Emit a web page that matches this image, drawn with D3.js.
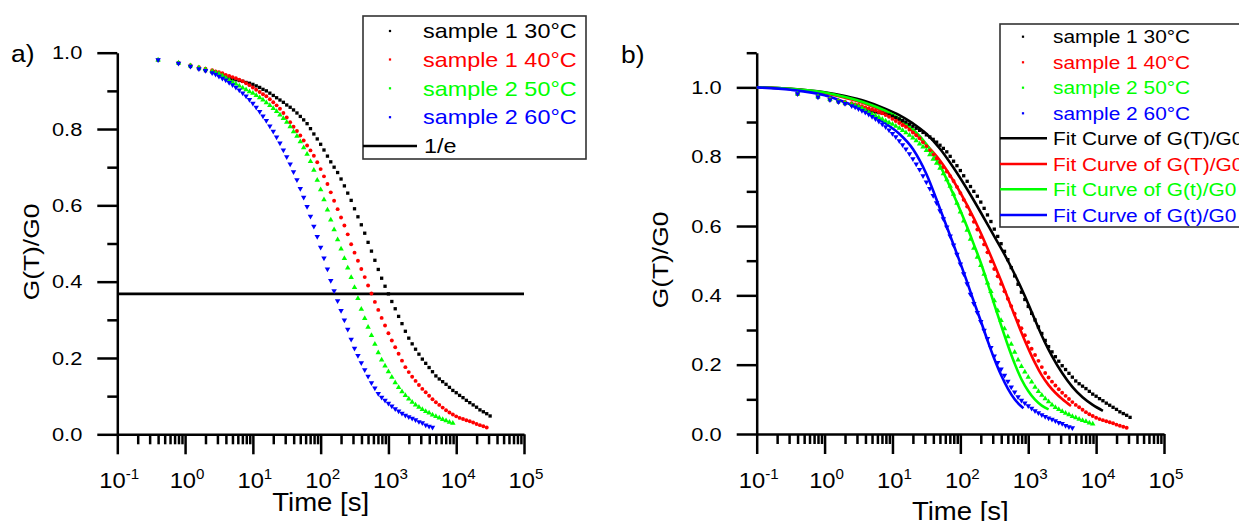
<!DOCTYPE html>
<html><head><meta charset="utf-8">
<script src="https://cdn.jsdelivr.net/npm/d3@7"></script>
<style>
body{margin:0;background:#fff}
svg{display:block}
text{font-family:"Liberation Sans",Arial,Helvetica,sans-serif}
</style>
</head><body>
<svg id="chart" width="1239" height="521"></svg>
<script>
// ---------------- data ----------------
const times = [0.4,0.8,1.2,1.6,2.0,
 2.51,2.82,3.16,3.55,3.98,4.47,5.01,5.62,6.31,7.08,7.94,8.91,10,11.2,12.6,
 14.1,15.8,17.8,20,22.4,25.1,28.2,31.6,35.5,39.8,44.7,50.1,56.2,63.1,70.8,
 79.4,89.1,100,112,126,141,158,178,200,224,251,282,316,355,398,447,501,562,
 631,708,794,891,1000,1122,1259,1413,1585,1778,1995,2239,2512,2818,3162,3548,
 3981,4467,5012,5623,6310,7079,7943,8913,10000,11220,12589,14125,15849,17783,
 19953,22387,25119,28184,31623];

const s1_30 = [0.981,0.972,0.964,0.958,0.953,
 0.949,0.946,0.942,0.939,0.936, 0.933,0.931,0.929,0.927,0.925,
 0.922,0.920,0.917,0.913,0.909, 0.904,0.900,0.894,0.888,0.882,
 0.876,0.870,0.863,0.857,0.850, 0.842,0.833,0.824,0.814,0.801,
 0.787,0.774,0.760,0.745,0.729, 0.714,0.700,0.686,0.669,0.651,
 0.632,0.613,0.591,0.570,0.549, 0.527,0.503,0.480,0.456,0.432,
 0.409,0.388,0.368,0.348,0.329, 0.309,0.290,0.270,0.252,0.237,
 0.223,0.210,0.197,0.186,0.175, 0.164,0.153,0.145,0.138,0.131,
 0.123,0.115,0.109,0.102,0.096, 0.089,0.083,0.077,0.071,0.064,
 0.059,0.054,0.048];
const s1_40 = [0.981,0.974,0.967,0.962,0.958,
 0.954,0.951,0.949,0.946,0.942, 0.939,0.936,0.933,0.929,0.925,
 0.920,0.915,0.909,0.903,0.897, 0.891,0.886,0.878,0.870,0.862,
 0.853,0.842,0.830,0.818,0.806, 0.795,0.783,0.770,0.757,0.744,
 0.730,0.713,0.695,0.676,0.656, 0.634,0.612,0.590,0.568,0.547,
 0.524,0.498,0.476,0.455,0.433, 0.412,0.390,0.369,0.347,0.326,
 0.305,0.285,0.265,0.246,0.228, 0.211,0.193,0.176,0.163,0.151,
 0.140,0.129,0.119,0.110,0.101, 0.092,0.084,0.077,0.070,0.063,
 0.057,0.052,0.047,0.043,0.040, 0.037,0.034,0.031,0.027,0.024,
 0.021,0.018];
const s2_50 = [0.981,0.973,0.966,0.961,0.956,
 0.951,0.948,0.945,0.940,0.934, 0.928,0.923,0.918,0.913,0.908,
 0.903,0.898,0.894,0.888,0.882, 0.876,0.869,0.862,0.854,0.846,
 0.837,0.828,0.818,0.806,0.793, 0.781,0.767,0.751,0.734,0.715,
 0.692,0.666,0.641,0.615,0.588, 0.562,0.536,0.510,0.486,0.461,
 0.436,0.411,0.385,0.356,0.328, 0.304,0.281,0.259,0.236,0.214,
 0.195,0.179,0.164,0.150,0.135, 0.123,0.112,0.102,0.093,0.084,
 0.077,0.071,0.065,0.060,0.056, 0.051,0.047,0.043,0.039,0.036,
 0.032,0.029];
const s2_60 = [0.981,0.972,0.964,0.958,0.953,
 0.947,0.943,0.938,0.933,0.928, 0.922,0.916,0.909,0.902,0.894,
 0.886,0.877,0.867,0.857,0.846, 0.834,0.822,0.808,0.794,0.779,
 0.763,0.745,0.727,0.708,0.688, 0.667,0.644,0.621,0.597,0.571,
 0.545,0.518,0.490,0.462,0.433, 0.403,0.376,0.350,0.324,0.299,
 0.275,0.249,0.225,0.206,0.187, 0.169,0.152,0.135,0.121,0.107,
 0.097,0.089,0.081,0.074,0.067, 0.061,0.055,0.050,0.046,0.042,
 0.038,0.033,0.030,0.024,0.021, 0.018];

// fit curves (panel b)
const fitT_30 = [0.1,0.316,1,2,4,7.94,12.6,20,31.6,50.1,79.4,126,200,316,447,631,891,1122,1413,1778,2239,3162,4467,6310,8913,12589];
const fitG_30 = [1.000,0.996,0.986,0.975,0.960,0.938,0.920,0.896,0.866,0.823,0.768,0.706,0.639,0.570,0.518,0.461,0.398,0.352,0.306,0.263,0.225,0.176,0.136,0.106,0.084,0.067];
const fitT_40 = [0.1,0.316,1,2,4,7.94,12.6,20,31.6,50.1,79.4,126,200,251,316,398,501,631,794,1000,1259,1585,1995,2512,3162,4266];
const fitG_40 = [1.000,0.995,0.983,0.970,0.953,0.928,0.905,0.873,0.834,0.789,0.730,0.660,0.580,0.536,0.490,0.442,0.392,0.342,0.293,0.247,0.205,0.169,0.141,0.119,0.101,0.081];
const fitT_50 = [0.1,0.316,1,2,4,7.94,12.6,20,31.6,50.1,70.8,100,126,158,200,251,316,398,501,631,794,1000,1259,1585,1995];
const fitG_50 = [1.000,0.996,0.985,0.972,0.955,0.932,0.910,0.879,0.836,0.775,0.712,0.645,0.597,0.547,0.494,0.436,0.374,0.314,0.256,0.203,0.158,0.124,0.099,0.082,0.071];
const fitT_60 = [0.1,0.316,1,2,4,7.94,12.6,20,31.6,50.1,70.8,100,126,158,200,251,316,398,501,631,851];
const fitG_60 = [1.000,0.993,0.977,0.957,0.931,0.896,0.866,0.822,0.750,0.650,0.572,0.493,0.438,0.382,0.326,0.270,0.217,0.170,0.131,0.100,0.074];

const seriesNames = ["sample 1 30°C","sample 1 40°C","sample 2 50°C","sample 2 60°C"];
const fitNames = ["Fit Curve of G(T)/G0","Fit Curve of G(T)/G0","Fit Curve of G(t)/G0","Fit Curve of G(t)/G0"];
const seriesColors = ["#000000","#ff0000","#00ff00","#0000ff"];
const xTickExps = [-1,0,1,2,3,4,5];
const yTicksA = [0,0.2,0.4,0.6,0.8,1.0];
const yTicksB = [0,0.2,0.4,0.6,0.8,1.0];
const invE = 0.3679;

// ---------------- drawing ----------------
const svg = d3.select('#chart');

function addText(parent, str, x, y, o) {
  o = o || {};
  const t = parent.append('text')
    .attr('transform', `translate(${x},${y}) rotate(${o.rotate||0}) scale(${o.sx||1},1)`)
    .attr('font-size', o.size || 18)
    .attr('text-anchor', o.anchor || 'start')
    .attr('fill', o.fill || '#000');
  if (o.dy) t.attr('dy', o.dy);
  t.text(str);
  return t;
}

const rawData = [s1_30, s1_40, s2_50, s2_60];
const data = rawData.map(arr => arr.map((g, i) => ({t: times[i], g})));
const fits = [[fitT_30, fitG_30],[fitT_40, fitG_40],[fitT_50, fitG_50],[fitT_60, fitG_60]]
  .map(([T, G]) => T.map((t, i) => ({t, g: G[i]})));
const symTypes = [d3.symbolSquare, d3.symbolCircle, d3.symbolTriangle, d3.symbolTriangle];
const symRot = [0, 0, 0, 180];
const symSize = [11, 12, 13, 13];

function minorLog() {
  const out = [];
  for (let e = -1; e < 5; e++) for (let m = 2; m <= 9; m++) out.push(m * Math.pow(10, e));
  return out;
}

function drawPanel(cfg) {
  const g = svg.append('g');
  const x = d3.scaleLog().domain([0.1, 1e5]).range([cfg.x0, cfg.x1]);
  const y = d3.scaleLinear().domain([0, cfg.ymax]).range([cfg.y0, cfg.y1]);

  const xMinor = g.append('g').attr('transform', `translate(0,${cfg.y0})`)
    .call(d3.axisBottom(x).tickValues(minorLog()).tickSize(10).tickFormat(''));
  xMinor.select('.domain').remove();
  g.append('g').attr('transform', `translate(0,${cfg.y0})`)
    .call(d3.axisBottom(x).tickValues(xTickExps.map(e => Math.pow(10, e))).tickSize(20).tickSizeOuter(0).tickFormat(''));
  const yMinorAx = g.append('g').attr('transform', `translate(${cfg.x0},0)`)
    .call(d3.axisLeft(y).tickValues(cfg.yMinor).tickSize(10).tickFormat(''));
  yMinorAx.select('.domain').remove();
  g.append('g').attr('transform', `translate(${cfg.x0},0)`)
    .call(d3.axisLeft(y).tickValues(cfg.yTicks).tickSize(20).tickSizeOuter(0).tickFormat(''));
  g.selectAll('.domain, .tick line').attr('stroke', '#000').attr('stroke-width', 2.5);

  xTickExps.forEach(e => {
    const t = addText(g, '', x(Math.pow(10, e)) + 2, 488, {size: 22, sx: 1.08, anchor: 'middle'});
    t.append('tspan').text('10');
    t.append('tspan').attr('dy', -9).attr('font-size', 14).text(String(e));
  });
  cfg.yTicks.forEach(v => {
    addText(g, v.toFixed(1), cfg.x0 - 35, y(v), {size: 18.5, sx: 1.18, anchor: 'end', dy: '0.36em'});
  });

  addText(g, 'Time [s]', (cfg.x0 + cfg.x1) / 2, cfg.xTitleY, {size: 25.5, sx: 1.08, anchor: 'middle'});
  addText(g, 'G(T)/G0', cfg.yTitleX, cfg.yTitleY, {size: 22, sx: 1.2, anchor: 'middle', rotate: -90});
  addText(g, cfg.tag, cfg.tagX, cfg.tagY, {size: 24, sx: 1.1});

  return {g, x, y};
}

function drawDots(p) {
  data.forEach((ser, k) => {
    p.g.append('g').selectAll('path').data(ser).join('path')
      .attr('d', d3.symbol().type(symTypes[k]).size(symSize[k]))
      .attr('transform', d => `translate(${p.x(d.t)},${p.y(d.g)}) rotate(${symRot[k]})`)
      .attr('fill', seriesColors[k]);
  });
}

// ---- panel a ----
const A = drawPanel({x0: 117.3, x1: 524, y0: 434.3, y1: 52.7, ymax: 1.0,
  yTicks: yTicksA, yMinor: [0.1,0.3,0.5,0.7,0.9],
  xTitleY: 511, yTitleX: 38.5, yTitleY: 252, tag: 'a)', tagX: 11, tagY: 62});
A.g.append('line')
  .attr('x1', A.x(0.1)).attr('x2', A.x(1e5))
  .attr('y1', A.y(invE)).attr('y2', A.y(invE))
  .attr('stroke', '#000').attr('stroke-width', 2.6);
drawDots(A);

// legend a
{
  const lg = svg.append('g');
  lg.append('rect').attr('x', 363).attr('y', 16).attr('width', 223).attr('height', 143)
    .attr('fill', '#fff').attr('stroke', '#333').attr('stroke-width', 1.6);
  const rows = [31, 59.5, 88.3, 117.2];
  seriesNames.forEach((n, k) => {
    lg.append('path').attr('d', d3.symbol().type(d3.symbolSquare).size(5))
      .attr('transform', `translate(390,${rows[k]})`).attr('fill', seriesColors[k]);
    addText(lg, n, 423, rows[k], {size: 20, sx: 1.17, fill: seriesColors[k], dy: '0.36em'});
  });
  lg.append('line').attr('x1', 363).attr('x2', 417).attr('y1', 146).attr('y2', 146)
    .attr('stroke', '#000').attr('stroke-width', 2.6);
  addText(lg, '1/e', 424, 146, {size: 20, sx: 1.17, dy: '0.36em'});
}

// ---- panel b ----
const B = drawPanel({x0: 756.7, x1: 1164, y0: 434, y1: 52.7, ymax: 1.1,
  yTicks: yTicksB, yMinor: [0.1,0.3,0.5,0.7,0.9,1.1],
  xTitleY: 520, yTitleX: 668, yTitleY: 260, tag: 'b)', tagX: 621, tagY: 63});
const line = d3.line().x(d => B.x(d.t)).y(d => B.y(d.g)).curve(d3.curveMonotoneX);
fits.forEach((f, k) => {
  B.g.append('path').attr('d', line(f)).attr('fill', 'none')
    .attr('stroke', seriesColors[k]).attr('stroke-width', 2.6);
});
drawDots(B);

// legend b
{
  const lg = svg.append('g');
  lg.append('rect').attr('x', 1000).attr('y', 24).attr('width', 300).attr('height', 203)
    .attr('fill', '#fff').attr('stroke', '#333').attr('stroke-width', 1.6);
  const rows = [36.7, 62.3, 87.7, 113.3, 138.3, 164, 189.3, 215];
  seriesNames.forEach((n, k) => {
    lg.append('path').attr('d', d3.symbol().type(d3.symbolSquare).size(5))
      .attr('transform', `translate(1023,${rows[k]})`).attr('fill', seriesColors[k]);
    addText(lg, n, 1053, rows[k], {size: 18.5, sx: 1.13, fill: seriesColors[k], dy: '0.36em'});
  });
  fitNames.forEach((n, k) => {
    const r = rows[k + 4];
    lg.append('line').attr('x1', 1000).attr('x2', 1047).attr('y1', r).attr('y2', r)
      .attr('stroke', seriesColors[k]).attr('stroke-width', 2.6);
    addText(lg, n, 1053, r, {size: 18.5, sx: 1.13, fill: seriesColors[k], dy: '0.36em'});
  });
}
</script>
</body></html>
